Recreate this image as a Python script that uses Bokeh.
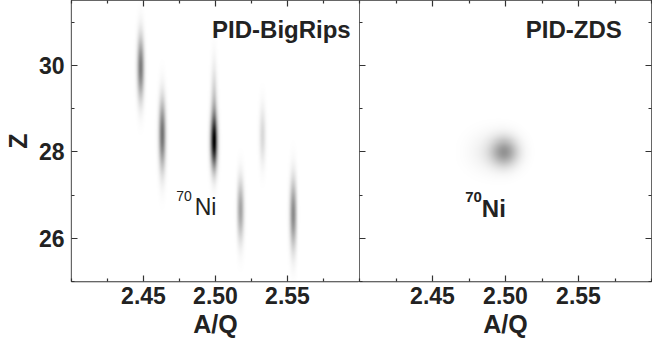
import numpy as np
from bokeh.plotting import figure
from bokeh.layouts import row
from bokeh.models import LinearAxis, FixedTicker, Range1d, LinearColorMapper, PrintfTickFormatter
from bokeh.core.properties import value
from bokeh.embed import file_html
from bokeh.resources import INLINE
from bokeh.palettes import Greys256

# ---- axes ----
aq_lo, aq_hi = 2.40, 2.60
z_lo, z_hi = 25.0, 31.5
aq_major = [2.45, 2.50, 2.55]
aq_minor = [2.40, 2.425, 2.475, 2.525, 2.575, 2.60]
z_major = [26, 28, 30]
z_minor = [25, 27, 29, 31]

# ---- PID-BigRips: isotope spots (A/Q centre, Z centre, widths, peak density) ----
br_aq = [2.448, 2.463, 2.499, 2.499, 2.5175, 2.5328, 2.554]
br_z = [29.95, 28.40, 28.22, 29.00, 26.65, 28.38, 26.55]
br_saq = [0.0016, 0.0016, 0.0017, 0.0015, 0.0016, 0.0015, 0.0016]
br_sz = [0.50, 0.55, 0.42, 0.65, 0.48, 0.45, 0.55]
br_amp = [0.52, 0.55, 0.90, 0.22, 0.36, 0.15, 0.46]

# ---- PID-ZDS: single gated 70Ni spot ----
zds_aq = [2.4995, 2.490]
zds_z = [28.0, 28.0]
zds_saq = [0.0065, 0.010]
zds_sz = [0.23, 0.30]
zds_amp = [0.38, 0.07]

FONT = value("Liberation Sans")
INK = "#222222"


def density(aqs, zs, saqs, szs, amps, nx=590, ny=560):
    xs = np.linspace(aq_lo, aq_hi, nx)
    ys = np.linspace(z_lo, z_hi, ny)
    X, Y = np.meshgrid(xs, ys)
    img = np.zeros_like(X)
    for a, z, sa, sz, amp in zip(aqs, zs, saqs, szs, amps):
        img += amp * np.exp(-0.5 * ((X - a) / sa) ** 2 - 0.5 * ((Y - z) / sz) ** 2)
    return np.clip(img, 0, 1)


mapper = LinearColorMapper(palette=list(Greys256[::-1]), low=0, high=1)


def style_axis(ax, labels=True):
    ax.axis_line_color = None
    ax.major_tick_in = 6
    ax.major_tick_out = 0
    ax.minor_tick_in = 3
    ax.minor_tick_out = 0
    ax.major_tick_line_color = "#333333"
    ax.minor_tick_line_color = "#333333"
    ax.major_tick_line_width = 1.2
    ax.minor_tick_line_width = 1.2
    if labels:
        ax.major_label_text_font = "Liberation Sans"
        ax.major_label_text_font_style = "bold"
        ax.major_label_text_font_size = "23px"
        ax.major_label_text_color = INK
        ax.axis_label_text_font = "Liberation Sans"
        ax.axis_label_text_font_style = "bold"
        ax.axis_label_text_font_size = "25px"
        ax.axis_label_text_color = INK
    else:
        ax.major_label_text_font_size = "0px"
        ax.major_label_standoff = 0
        ax.major_label_text_color = None


def make_fig(width, border_left, border_right):
    p = figure(width=width, height=340, x_range=Range1d(aq_lo, aq_hi), y_range=Range1d(z_lo, z_hi),
               output_backend="svg", toolbar_location=None,
               x_axis_location=None, y_axis_location=None,
               min_border_left=border_left, min_border_right=border_right,
               min_border_top=0, min_border_bottom=0)
    p.grid.visible = False
    p.outline_line_color = "#333333"
    p.outline_line_width = 1.3
    p.background_fill_color = "white"
    p.border_fill_color = "white"
    return p


def bottom_axis(p):
    ax = LinearAxis(ticker=xt, formatter=PrintfTickFormatter(format="%.2f"), axis_label="A/Q")
    style_axis(ax)
    ax.major_label_standoff = 5
    ax.axis_label_standoff = 3
    p.add_layout(ax, "below")


xt = FixedTicker(ticks=aq_major, minor_ticks=aq_minor)
yt = FixedTicker(ticks=z_major, minor_ticks=z_minor)

# ---------------- left panel ----------------
p1 = make_fig(359, 64, 0)
p1.image(image=[density(br_aq, br_z, br_saq, br_sz, br_amp)], x=aq_lo, y=z_lo,
         dw=aq_hi - aq_lo, dh=z_hi - z_lo, color_mapper=mapper)
bottom_axis(p1)
t1 = LinearAxis(ticker=xt)
style_axis(t1, labels=False)
p1.add_layout(t1, "above")
l1 = LinearAxis(ticker=yt, formatter=PrintfTickFormatter(format="%d"), axis_label="Z")
style_axis(l1)
l1.major_label_standoff = 7
l1.axis_label_standoff = 4
p1.add_layout(l1, "left")

p1.text(x=[2.4976], y=[30.83], text=["PID-BigRips"], text_font=FONT, text_font_size="24px",
        text_font_style="bold", text_color=INK, text_baseline="alphabetic", text_align="left")
p1.text(x=[2.4727], y=[26.98], text=["70"], text_font=FONT, text_font_size="14px",
        text_color=INK, text_baseline="alphabetic", text_align="left")
p1.text(x=[2.4856], y=[26.72], text=["Ni"], text_font=FONT, text_font_size="23px",
        text_color=INK, text_baseline="alphabetic", text_align="left")

# ---------------- right panel ----------------
p2 = make_fig(293, 0, 1)
p2.image(image=[density(zds_aq, zds_z, zds_saq, zds_sz, zds_amp)], x=aq_lo, y=z_lo,
         dw=aq_hi - aq_lo, dh=z_hi - z_lo, color_mapper=mapper)
bottom_axis(p2)
t2 = LinearAxis(ticker=xt)
style_axis(t2, labels=False)
p2.add_layout(t2, "above")
l2 = LinearAxis(ticker=yt)
style_axis(l2, labels=False)
p2.add_layout(l2, "left")
r2 = LinearAxis(ticker=yt)
style_axis(r2, labels=False)
p2.add_layout(r2, "right")

p2.text(x=[2.5139], y=[30.83], text=["PID-ZDS"], text_font=FONT, text_font_size="24px",
        text_font_style="bold", text_color=INK, text_baseline="alphabetic", text_align="left")
p2.text(x=[2.4724], y=[26.95], text=["70"], text_font=FONT, text_font_size="15px",
        text_font_style="bold", text_color=INK, text_baseline="alphabetic", text_align="left")
p2.text(x=[2.4838], y=[26.68], text=["Ni"], text_font=FONT, text_font_size="24px",
        text_font_style="bold", text_color=INK, text_baseline="alphabetic", text_align="left")

layout = row(p1, p2)
open("out.html", "w").write(file_html(layout, INLINE))
